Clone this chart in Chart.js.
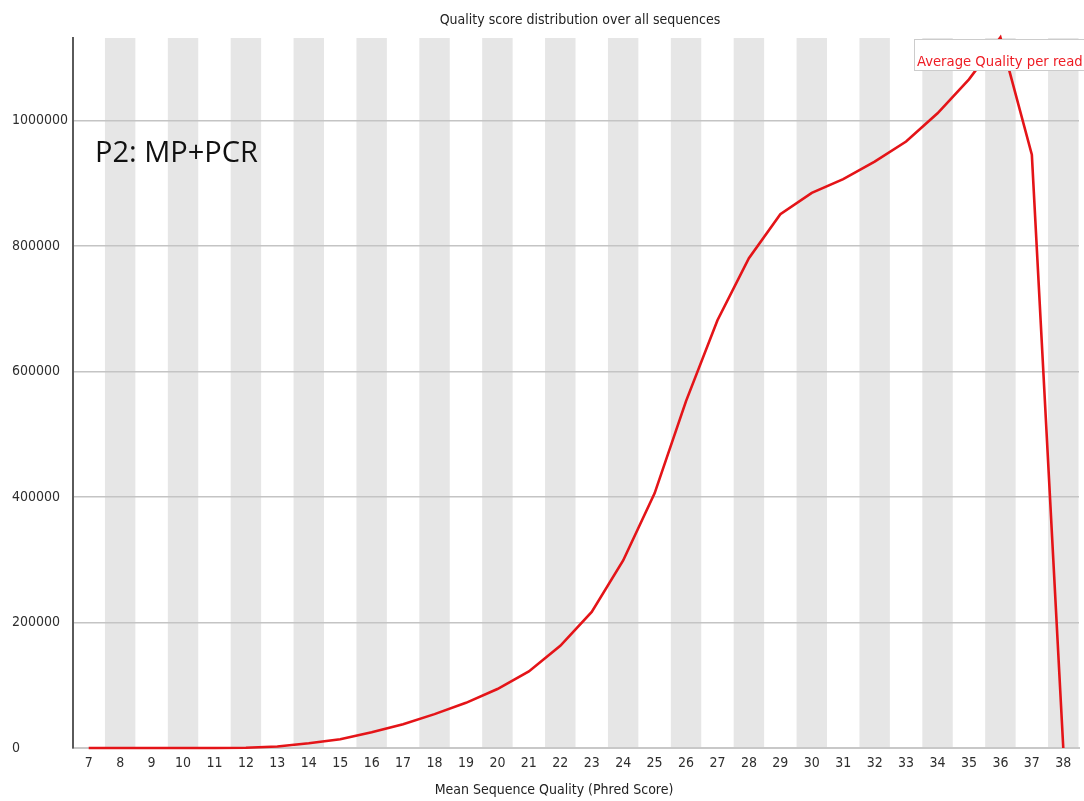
<!DOCTYPE html>
<html>
<head>
<meta charset="utf-8">
<title>Quality score distribution over all sequences</title>
<script src="https://cdn.jsdelivr.net/npm/chart.js@4/dist/chart.umd.min.js"></script>
<style>
  html, body { margin: 0; padding: 0; background: #ffffff; }
  #wrap { width: 1084px; height: 801px; }
</style>
</head>
<body>
<div id="wrap"><canvas id="qc" width="1084" height="801"></canvas></div>
<script>
// Mean sequence quality (Phred score) bins
const phredScores = [7, 8, 9, 10, 11, 12, 13, 14, 15, 16, 17, 18, 19, 20, 21, 22,
                     23, 24, 25, 26, 27, 28, 29, 30, 31, 32, 33, 34, 35, 36, 37, 38];

// Number of reads per mean quality bin
const readCounts = [0, 0, 0, 0, 0, 500, 2500, 7500, 14000, 25000, 38000, 54000, 72000, 94000, 122000, 163000,
                    217000, 299000, 406000, 553000, 682000, 781000, 851000, 885000, 907000, 935000, 967000, 1012000, 1066000, 1133000, 946000, 0];

// Y axis range and labelled ticks
const yMax = 1132000;
const yTickValues = [0, 200000, 400000, 600000, 800000, 1000000];

const chartTitle = 'Quality score distribution over all sequences';
const xAxisTitle = 'Mean Sequence Quality (Phred Score)';
const seriesName = 'Average Quality per read';
const sampleLabel = 'P2: MP+PCR';

const tickFont = "'DejaVu Sans Condensed', 'Liberation Sans', sans-serif";

// Alternating grey columns behind every even quality bin
const stripePlugin = {
  id: 'stripes',
  beforeDraw(chart) {
    const { ctx, chartArea, scales: { x } } = chart;
    const w = (x.right - x.left) / phredScores.length;
    ctx.save();
    ctx.fillStyle = '#e6e6e6';
    phredScores.forEach((q, i) => {
      if (q % 2 === 0) {
        const cx = x.getPixelForValue(i);
        ctx.fillRect(cx - w / 2 + 0.5, chartArea.top, w - 1, chartArea.bottom - chartArea.top);
      }
    });
    ctx.restore();
  }
};

// Titles, legend box and sample label
const textPlugin = {
  id: 'texts',
  afterDatasetsDraw(chart) {
    const { ctx } = chart;
    ctx.save();
    // legend box
    ctx.fillStyle = '#ffffff';
    ctx.fillRect(914, 39, 200, 32);
    ctx.strokeStyle = '#cccccc';
    ctx.lineWidth = 1;
    ctx.strokeRect(914.5, 39.5, 200, 31);
    ctx.fillStyle = '#ee1c24';
    ctx.font = "14.7px " + tickFont;
    ctx.textAlign = 'left';
    ctx.textBaseline = 'alphabetic';
    ctx.fillText(seriesName, 917, 66);

    // chart title
    ctx.fillStyle = '#222222';
    ctx.font = "14px " + tickFont;
    ctx.textAlign = 'center';
    ctx.textBaseline = 'middle';
    ctx.fillText(chartTitle, 580, 20);

    // x axis title
    ctx.fillText(xAxisTitle, 554, 790);

    // sample label, sized to its width
    ctx.fillStyle = '#111111';
    ctx.textAlign = 'left';
    ctx.textBaseline = 'alphabetic';
    ctx.font = "100px 'Open Sans', 'Noto Sans', sans-serif";
    const w100 = ctx.measureText(sampleLabel).width;
    const size = 100 * 163 / w100;
    ctx.font = size.toFixed(1) + "px 'Open Sans', 'Noto Sans', sans-serif";
    ctx.fillText(sampleLabel, 95, 162);
    ctx.restore();
  }
};

new Chart(document.getElementById('qc'), {
  type: 'line',
  data: {
    labels: phredScores.map(String),
    datasets: [{
      label: seriesName,
      data: readCounts,
      borderColor: 'rgb(228,20,24)',
      borderWidth: 2.6,
      pointRadius: 0,
      tension: 0,
      fill: false,
      clip: false
    }]
  },
  options: {
    responsive: false,
    animation: false,
    devicePixelRatio: 1,
    layout: { padding: { left: 12, top: 38, right: 5, bottom: 0 } },
    plugins: {
      legend: { display: false },
      title: { display: false },
      tooltip: { enabled: false }
    },
    scales: {
      x: {
        type: 'category',
        offset: true,
        grid: { display: false, drawTicks: false },
        border: { display: true, color: '#c8c8c8', width: 2 },
        ticks: {
          autoSkip: false,
          maxRotation: 0,
          minRotation: 0,
          padding: 7,
          color: '#2e2e2e',
          font: { family: tickFont, size: 14 }
        },
        afterFit(scale) { scale.height = 53; }
      },
      y: {
        type: 'linear',
        min: 0,
        max: yMax,
        grid: { color: '#c4c4c4', lineWidth: 1.5, drawTicks: false },
        border: { display: true, color: '#5a5a5a', width: 2 },
        afterBuildTicks(scale) {
          scale.ticks = yTickValues.map(v => ({ value: v }));
        },
        ticks: {
          crossAlign: 'far',
          padding: 0,
          color: '#2e2e2e',
          font: { family: tickFont, size: 14 },
          callback: (v) => String(v)
        },
        afterFit(scale) { scale.width = 61; }
      }
    }
  },
  plugins: [stripePlugin, textPlugin]
});
</script>
</body>
</html>
